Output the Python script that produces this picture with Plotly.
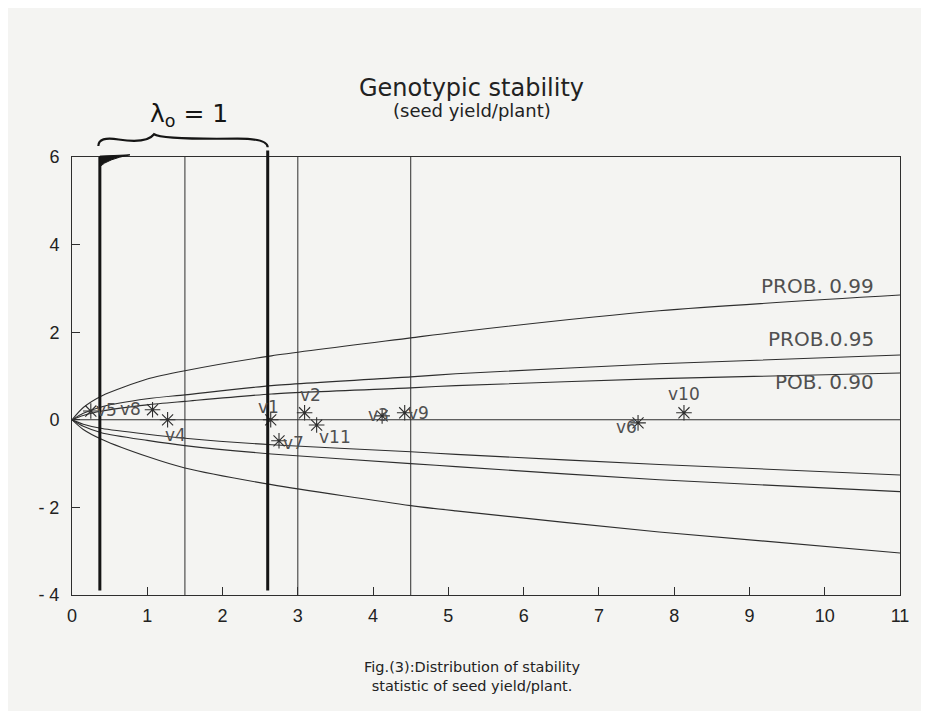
import plotly.graph_objects as go

# ---- data ----
curve_x = [0, 0.15, 0.4, 1.0, 1.5, 2.65, 4.5, 5.1, 7.8, 11]
upper_99 = [0, 0.28, 0.55, 0.93, 1.12, 1.46, 1.87, 2.0, 2.49, 2.85]
upper_95 = [0, 0.15, 0.30, 0.48, 0.57, 0.78, 0.98, 1.05, 1.28, 1.48]
upper_90 = [0, 0.10, 0.20, 0.34, 0.42, 0.59, 0.73, 0.78, 0.94, 1.07]
lower_90 = [0, -0.10, -0.20, -0.33, -0.42, -0.57, -0.73, -0.79, -1.02, -1.26]
lower_95 = [0, -0.15, -0.30, -0.47, -0.59, -0.78, -1.00, -1.07, -1.37, -1.64]
lower_99 = [0, -0.22, -0.45, -0.84, -1.10, -1.48, -1.96, -2.08, -2.56, -3.04]

zero_x = [0, 11]
zero_y = [0, 0]

variety = ["v5", "v8", "v4", "v1", "v7", "v2", "v11", "v3", "v9", "v6", "v10"]
stat_x = [0.25, 1.07, 1.27, 2.64, 2.75, 3.09, 3.25, 4.12, 4.42, 7.52, 8.13]
stat_y = [0.20, 0.23, 0.00, 0.00, -0.48, 0.16, -0.12, 0.09, 0.16, -0.07, 0.16]

band_labels = ["PROB. 0.99", "PROB.0.95", "POB. 0.90"]
band_label_y = [3.06, 1.85, 0.87]

grid_x = [1.5, 3.0, 4.5]            # thin vertical reference lines
hand_x = [0.37, 2.6]                # hand-drawn thick lines
x_ticks = list(range(0, 12))
y_ticks = [-4, -2, 0, 2, 4, 6]
y_tick_text = ["- 4", "- 2", "0", "2", "4", "6"]

ink = "#2e2e2e"
gray = "#505050"
font = "Liberation Sans, Arial, sans-serif"
wide = "DejaVu Sans, Verdana, sans-serif"

Y0, Y1 = -4, 6


def to_paper(v):
    return (v - Y0) / (Y1 - Y0)


fig = go.Figure()

for ys in [upper_99, upper_95, upper_90, lower_90, lower_95, lower_99]:
    fig.add_trace(go.Scatter(x=curve_x, y=ys, mode="lines",
                             line=dict(color=ink, width=1.1, shape="spline", smoothing=0.7),
                             hoverinfo="skip", showlegend=False))
fig.add_trace(go.Scatter(x=zero_x, y=zero_y, mode="lines",
                         line=dict(color=ink, width=1.1), showlegend=False))

fig.add_trace(go.Scatter(x=stat_x, y=stat_y, mode="markers",
                         marker=dict(symbol="asterisk-open", size=13, color=ink,
                                     line=dict(color=ink, width=1.1)),
                         text=variety, showlegend=False))

shapes = []
for gx in grid_x:
    shapes.append(dict(type="line", x0=gx, x1=gx, y0=Y0, y1=Y1, xref="x", yref="y",
                       line=dict(color=ink, width=1)))
hx0, hx1 = hand_x
shapes.append(dict(type="line", x0=hx0, x1=hx0, y0=to_paper(-3.9), y1=to_paper(6.0),
                   xref="x", yref="paper", line=dict(color="#151515", width=3)))
shapes.append(dict(type="line", x0=hx1, x1=hx1, y0=to_paper(-3.9), y1=to_paper(6.15),
                   xref="x", yref="paper", line=dict(color="#151515", width=3)))
# small ink blob at top of the left hand line
shapes.append(dict(type="path", xref="x", yref="paper",
                   path=(f"M {hx0},{to_paper(6.02)} L {hx0},{to_paper(5.78)} "
                         f"Q {hx0+0.1},{to_paper(5.95)} {hx0+0.4},{to_paper(6.05)} Z"),
                   fillcolor="#151515", line=dict(color="#151515", width=1)))
# hand-drawn brace
mid = hx0 + 0.72
pts = [
    (hx0 - 0.02, 6.25), (hx0 - 0.02, 6.48), (hx0 + 0.25, 6.4),
    (mid - 0.1, 6.3), (mid, 6.52),
    (mid + 0.1, 6.4), (hx1 - 0.4, 6.42),
    (hx1, 6.42), (hx1, 6.22),
]
p = [(x, to_paper(y)) for x, y in pts]
brace = (f"M {p[0][0]},{p[0][1]} Q {p[1][0]},{p[1][1]} {p[2][0]},{p[2][1]} "
         f"Q {p[3][0]},{p[3][1]} {p[4][0]},{p[4][1]} "
         f"Q {p[5][0]},{p[5][1]} {p[6][0]},{p[6][1]} "
         f"Q {p[7][0]},{p[7][1]} {p[8][0]},{p[8][1]}")
shapes.append(dict(type="path", xref="x", yref="paper", path=brace,
                   line=dict(color="#151515", width=2.2)))

annotations = []
offsets = {
    "v5": (16, 1), "v8": (-22, 1), "v4": (8, -15),
    "v1": (-2, 13), "v7": (14, -2), "v2": (6, 18),
    "v11": (18, -12), "v3": (-4, 1), "v9": (14, 0),
    "v6": (-12, -4), "v10": (0, 19),
}
for name, xv, yv in zip(variety, stat_x, stat_y):
    dx, dy = offsets[name]
    annotations.append(dict(x=xv, y=yv, xref="x", yref="y", text=name, showarrow=False,
                            xshift=dx, yshift=dy, xanchor="center",
                            font=dict(family=wide, size=17, color=gray)))
for lab, ly in zip(band_labels, band_label_y):
    annotations.append(dict(x=10.68, y=ly, xref="x", yref="y", text=lab, showarrow=False,
                            xanchor="right", font=dict(family=wide, size=20, color=gray)))

annotations += [
    dict(x=1.55, y=to_paper(6.95), xref="x", yref="paper", text="λ<sub>o</sub> = 1",
         showarrow=False, yanchor="middle",
         font=dict(family="DejaVu Sans, sans-serif", size=25, color="#151515")),
    dict(x=0.483, y=1.157, xref="paper", yref="paper", text="Genotypic stability",
         showarrow=False, yanchor="middle", font=dict(family=wide, size=24, color="#222")),
    dict(x=0.483, y=1.107, xref="paper", yref="paper", text="(seed yield/plant)",
         showarrow=False, yanchor="middle", font=dict(family=wide, size=18, color="#222")),
    dict(x=0.483, y=-0.187, xref="paper", yref="paper", yanchor="middle",
         text="Fig.(3):Distribution of stability<br>statistic of seed yield/plant.",
         showarrow=False, font=dict(family=wide, size=14.5, color="#222")),
]

fig.update_layout(
    width=913, height=703,
    margin=dict(l=64, r=16, t=149, b=116),
    paper_bgcolor="#f4f4f2", plot_bgcolor="#f4f4f2",
    shapes=shapes, annotations=annotations,
    showlegend=False,
    xaxis=dict(range=[0, 11], tickvals=x_ticks, ticks="inside", ticklen=8,
               tickcolor=ink, showgrid=False, zeroline=False, showline=True,
               linecolor=ink, linewidth=1, mirror=True, ticklabelstandoff=4,
               tickfont=dict(family=font, size=18, color="#222")),
    yaxis=dict(range=[Y0, Y1], tickvals=y_ticks, ticktext=y_tick_text, ticks="inside",
               ticklen=8, tickcolor=ink, showgrid=False, zeroline=False, showline=True,
               linecolor=ink, linewidth=1, mirror=True, ticklabelstandoff=8,
               tickfont=dict(family=font, size=18, color="#222")),
)

fig.write_html("out.html")
